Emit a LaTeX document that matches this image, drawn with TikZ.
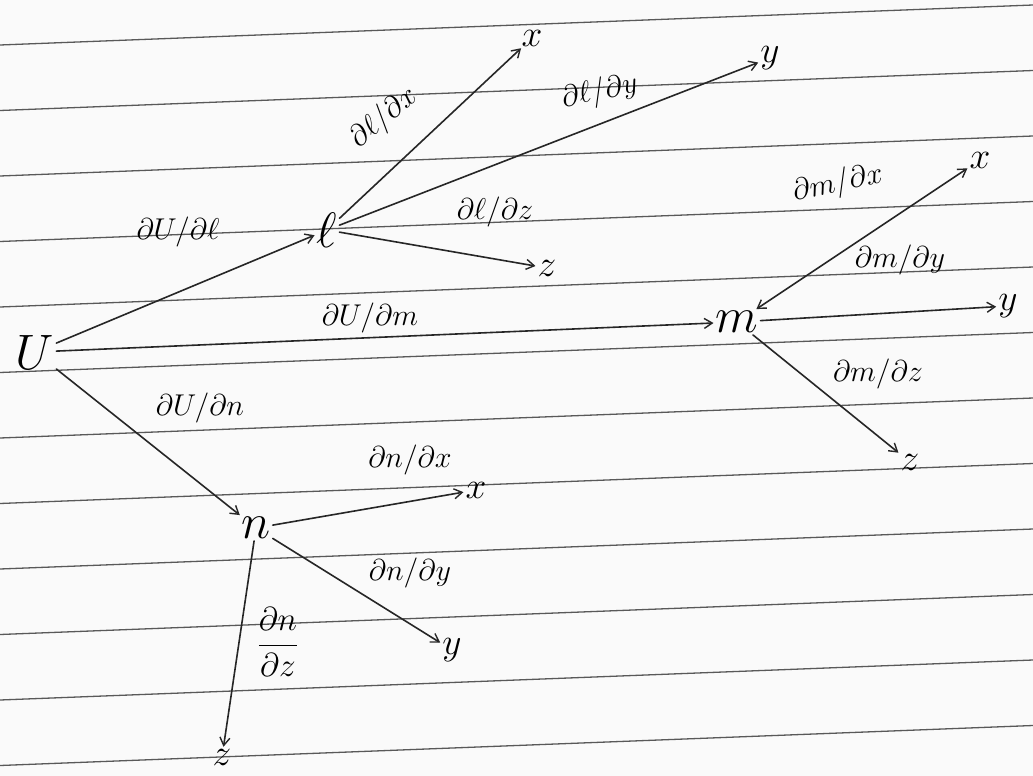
\documentclass[tikz,border=0pt]{standalone}
\usetikzlibrary{arrows.meta}
\newcommand{\vartxt}[1]{\scalebox{2.4}{\huge$#1$}}
\newcommand{\leaftxt}[1]{\scalebox{1.8}{\huge$#1$}}
\newcommand{\labtxt}[1]{\scalebox{1.45}{\huge$#1$}}
\begin{document}
\begin{tikzpicture}[x=1pt,y=-1pt,
  ink/.style={line width=1.6pt,black!85,line cap=round},
  arr/.style={ink,-{Straight Barb[length=8pt,width=10pt,line width=1.4pt]}},
  arrboth/.style={ink,{Straight Barb[length=8pt,width=10pt,line width=1.4pt]}-{Straight Barb[length=8pt,width=10pt,line width=1.4pt]}},
  rule/.style={line width=1.3pt,black!65},
  var/.style={inner sep=2pt},
  leaf/.style={inner sep=2pt},
  lab/.style={inner sep=1pt}]
\useasboundingbox (0,0) rectangle (1033,776);
\fill[white!96!gray] (0,0) rectangle (1033,776);
% ruled paper
\foreach \k in {0,...,11}{
  \draw[rule] (0,{45+65.5*\k}) -- (1033,{5+65.5*\k});
}
% main nodes
\node[var] (U) at (35,352) {\vartxt{U}};
\node[var] (l) at (327,230) {\vartxt{\ell}};
\node[var] (m) at (737,322) {\vartxt{m}};
\node[var] (n) at (256,528) {\vartxt{n}};
% leaves
\node[leaf] (lx) at (532,38) {\leaftxt{x}};
\node[leaf] (ly) at (770,58) {\leaftxt{y}};
\node[leaf] (lz) at (547,268) {\leaftxt{z}};
\node[leaf] (mx) at (980,160) {\leaftxt{x}};
\node[leaf] (my) at (1008,306) {\leaftxt{y}};
\node[leaf] (mz) at (910,462) {\leaftxt{z}};
\node[leaf] (nx) at (476,490) {\leaftxt{x}};
\node[leaf] (ny) at (452,650) {\leaftxt{y}};
\node[leaf] (nz) at (222,757) {\leaftxt{z}};
% connectors
\draw[arr] (U) -- (l);
\draw[arr] (U) -- (m);
\draw[arr] (U) -- (n);
\draw[arr] (l) -- (lx);
\draw[arr] (l) -- (ly);
\draw[arr] (l) -- (lz);
\draw[arrboth] (m) -- (mx);
\draw[arr] (m) -- (my);
\draw[arr] (m) -- (mz);
\draw[arr] (n) -- (nx);
\draw[arr] (n) -- (ny);
\draw[arr] (n) -- (nz);
% labels
\node[lab] (tUl) at (178,232) {\labtxt{\partial U/\partial \ell}};
\node[lab] (tUm) at (370,318) {\labtxt{\partial U/\partial m}};
\node[lab] (tUn) at (200,408) {\labtxt{\partial U/\partial n}};
\node[lab,rotate=40] (tlx) at (384,118) {\labtxt{\partial \ell/\partial x}};
\node[lab,rotate=12] (tly) at (600,92) {\labtxt{\partial \ell/\partial y}};
\node[lab] (tlz) at (495,212) {\labtxt{\partial \ell/\partial z}};
\node[lab,rotate=12] (tmx) at (838,184) {\labtxt{\partial m/\partial x}};
\node[lab] (tmy) at (900,260) {\labtxt{\partial m/\partial y}};
\node[lab] (tmz) at (878,374) {\labtxt{\partial m/\partial z}};
\node[lab] (tnx) at (410,460) {\labtxt{\partial n/\partial x}};
\node[lab] (tny) at (410,573) {\labtxt{\partial n/\partial y}};
\node[lab] (tnz) at (278,642) {\scalebox{1.6}{\huge$\displaystyle\frac{\partial n}{\partial z}$}};
\end{tikzpicture}
\end{document}
